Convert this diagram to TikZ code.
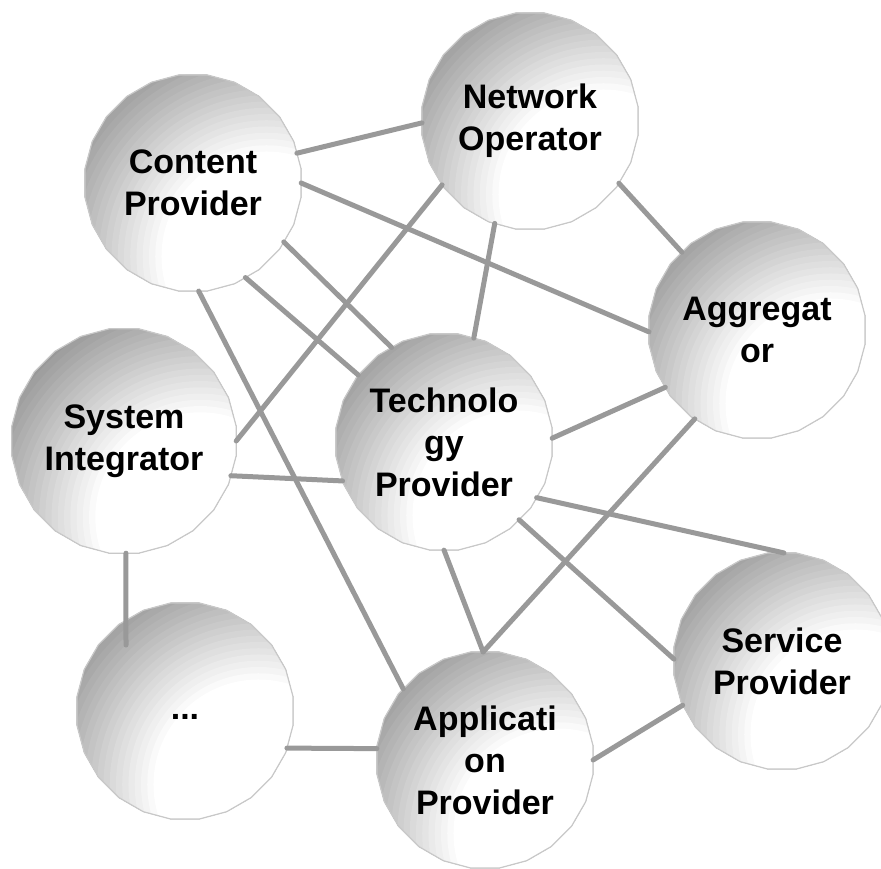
\documentclass[tikz,border=0pt]{standalone}
\usepackage{fontspec}
\setmainfont{Liberation Sans}
\usetikzlibrary{shapes.geometric,calc}
\definecolor{rimgray}{RGB}{200,200,200}
\definecolor{linkgray}{RGB}{153,153,153}
\tikzset{
  actor/.style={regular polygon, regular polygon sides=24, minimum size=218pt,
    inner sep=0pt, outer sep=0pt, draw=rimgray, line width=1.2pt,
    path picture={
      \coordinate (focuspt) at ($(path picture bounding box.center)!0.68!(path picture bounding box.south east)$);
      \foreach \k in {0,...,20} {
        \pgfmathsetmacro\ringr{230-6.25*\k}
        \pgfmathsetmacro\ringp{42*(1-\k/20)}
        \fill[black!\ringp] (focuspt) circle (\ringr pt);
      }},
    align=center,
    font=\fontsize{34}{42}\selectfont\bfseries},
  link/.style={draw=linkgray, line width=5pt, line cap=round}
}
\begin{document}
\begin{tikzpicture}[x=1pt,y=-1pt]
\useasboundingbox (0,0) rectangle (881,869);
\clip (0,0) rectangle (881,869);
\node[actor] (cp) at (193,183) {Content\\Provider};
\node[actor] (no) at (530,121) {Network\\Operator};
\node[actor] (ag) at (757,330) {Aggregat\\or};
\node[actor] (si) at (124,441) {System\\Integrator};
\node[actor] (tp) at (444,442) {Technolo\\gy\\Provider};
\node[actor] (dots) at (185,711) {\raisebox{-16pt}{...}};
\node[actor] (ap) at (485,760) {Applicati\\on\\Provider};
\node[actor] (sp) at (782,661) {Service\\Provider};
\path (dots.center) ++(-59,-66) coordinate (dotsin);
\draw[link] (cp.16.6) -- (no.181);
\draw[link] (cp.0) -- (ag.181);
\draw[link] (cp.-33.5) -- (tp.119.6);
\draw[link] (cp.-61.3) -- (tp.142.9);
\draw[link] (cp.-87.9) -- (ap.139.5);
\draw[link] (no.216.7) -- (si.-0.5);
\draw[link] (no.251.4) -- (tp.74.8);
\draw[link] (no.-35.2) -- (ag.134.2);
\draw[link] (tp.2.1) -- (ag.212.2);
\draw[link] (ag.235.4) -- (ap.91.6);
\draw[link] (si.-18.3) -- (tp.201);
\draw[link] (tp.-31.7) -- (sp.89.5);
\draw[link] (tp.-46.8) -- (sp.179.5);
\draw[link] (tp.-90) -- (ap.91.6);
\draw[link] (ap.0) -- (sp.204);
\draw[link] (si.-89) -- (dotsin);
\draw[link] (dots.-20.9) -- (ap.174.7);
\end{tikzpicture}
\end{document}
